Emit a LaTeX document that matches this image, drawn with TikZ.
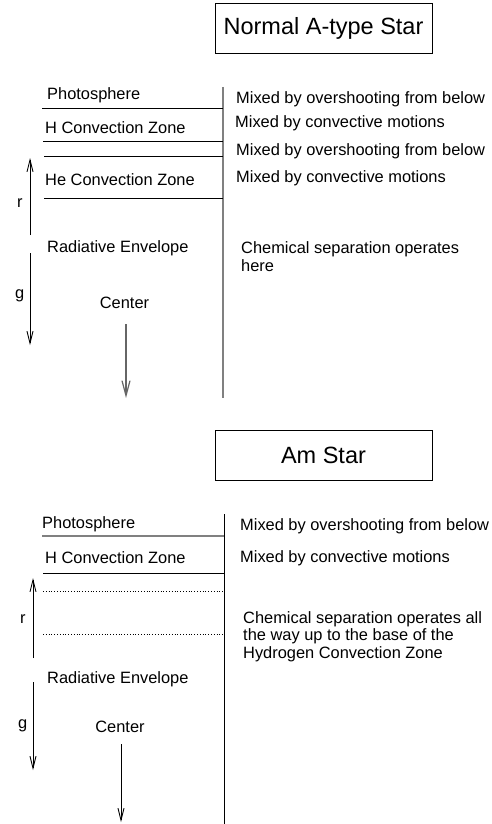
\documentclass[tikz,border=0pt]{standalone}
\usepackage{fontspec}
\setmainfont{Liberation Sans}
\usetikzlibrary{arrows.meta}
\begin{document}
\begin{tikzpicture}[x=1pt,y=-1pt,
  lbl/.style={font=\fontsize{16.4}{17.5}\selectfont, inner sep=0pt, anchor=base west, align=left},
  ttl/.style={draw, line width=0.8pt, minimum width=217pt, minimum height=50pt, inner sep=0pt, font=\fontsize{23.5}{26}\selectfont},
  layer/.style={line width=0.8pt},
  grayline/.style={line width=1.2pt, gray},
  arr/.style={line width=0.9pt, -{Straight Barb[length=12pt,width=6pt]}},
  carr/.style={line width=1.2pt, gray!80!black, -{Straight Barb[length=15pt,width=8pt]}},
  dots/.style={line width=0.8pt, dash pattern=on 0.8pt off 2pt}]
\useasboundingbox (0,0) rectangle (491,824);

% ---------- Normal A-type Star ----------
\node[ttl] (t1) at (323.5,28) {Normal A-type Star};
\coordinate (v1a) at (223,87);
\coordinate (v1b) at (223,398);
\draw[grayline] (v1a) -- (v1b);

\coordinate (h11) at (42,108);
\coordinate (h12) at (43,141);
\coordinate (h13) at (44,156);
\coordinate (h14) at (44,198);
\draw[layer] (h11) -- (h11 -| v1a);
\draw[layer] (h12) -- (h12 -| v1a);
\draw[layer] (h13) -- (h13 -| v1a);
\draw[layer] (h14) -- (h14 -| v1a);

\node[lbl] (p1) at (47,100) {Photosphere};
\node[lbl] (hc1) at (45,133) {H Convection Zone};
\node[lbl] (he1) at (45,185) {He Convection Zone};
\node[lbl] (re1) at (47,252) {Radiative Envelope};
\node[lbl,anchor=base] (c1) at (124.5,308) {Center};

\node[lbl] (m11) at (236,103) {Mixed by overshooting from below};
\node[lbl] (m12) at (235,128) {Mixed by convective motions};
\node[lbl] (m13) at (236,155) {Mixed by overshooting from below};
\node[lbl] (m14) at (236,182) {Mixed by convective motions};
\node[lbl] (cs1) at (241,271) {Chemical separation operates\\here};

\node[lbl] (r1) at (17,207) {r};
\node[lbl] (g1) at (15,298) {g};
\coordinate (r1b) at (30,235);
\coordinate (r1t) at (30,158);
\draw[arr] (r1b) -- (r1t);
\coordinate (g1t) at (30,253);
\coordinate (g1b) at (30,345);
\draw[arr] (g1t) -- (g1b);
\coordinate (c1t) at (126,324);
\coordinate (c1b) at (126,398);
\draw[carr] (c1t) -- (c1b);

% ---------- Am Star ----------
\node[ttl] (t2) at (323.5,455) {Am Star};
\coordinate (v2a) at (224,514);
\coordinate (v2b) at (224,824);
\draw[line width=0.9pt] (v2a) -- (v2b);

\coordinate (h21) at (42,536);
\coordinate (h22) at (43,573);
\coordinate (d21) at (43,591);
\coordinate (d22) at (43,634);
\draw[grayline] (h21) -- (h21 -| v2a);
\draw[layer] (h22) -- (h22 -| v2a);
\draw[dots] (d21) -- (d21 -| v2a);
\draw[dots] (d22) -- (d22 -| v2a);

\node[lbl] (p2) at (42,528) {Photosphere};
\node[lbl] (hc2) at (45,563) {H Convection Zone};
\node[lbl] (re2) at (47,683) {Radiative Envelope};
\node[lbl,anchor=base] (c2) at (120,732) {Center};

\node[lbl] (m21) at (240,530) {Mixed by overshooting from below};
\node[lbl] (m22) at (240,562) {Mixed by convective motions};
\node[lbl] (cs2) at (243,658) {Chemical separation operates all\\the way up to the base of the\\Hydrogen Convection Zone};

\node[lbl] (r2) at (20,623) {r};
\node[lbl] (g2) at (18,728) {g};
\coordinate (r2b) at (33,658);
\coordinate (r2t) at (33,578);
\draw[arr] (r2b) -- (r2t);
\coordinate (g2t) at (33,682);
\coordinate (g2b) at (33,770);
\draw[arr] (g2t) -- (g2b);
\coordinate (c2t) at (121,744);
\coordinate (c2b) at (121,822);
\draw[arr] (c2t) -- (c2b);
\end{tikzpicture}
\end{document}
